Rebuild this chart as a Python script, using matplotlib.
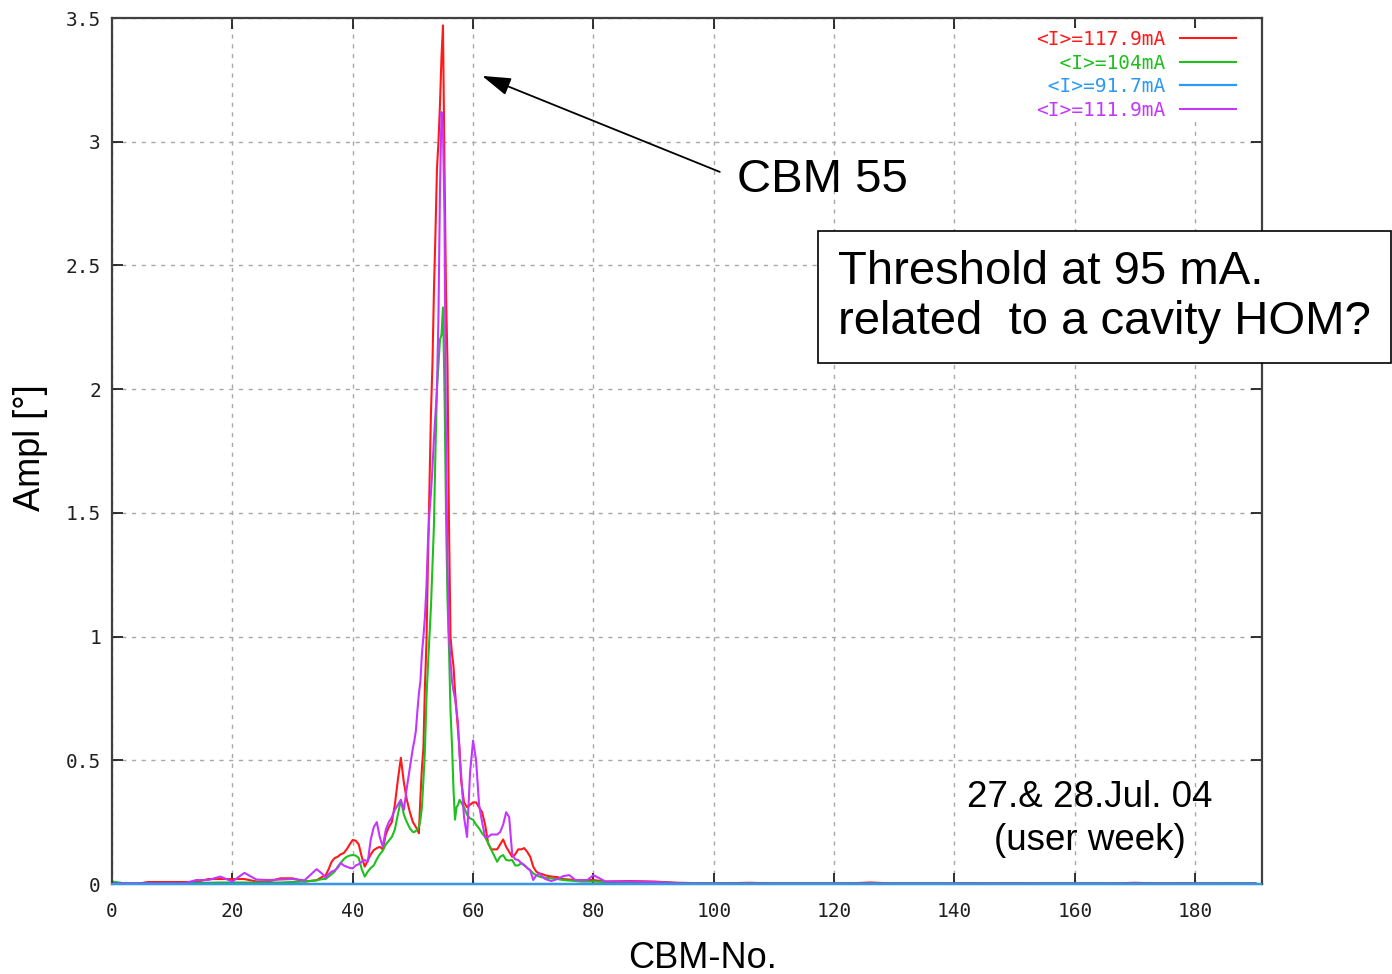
import numpy as np
import matplotlib
matplotlib.use('Agg')
import matplotlib.pyplot as plt

plt.rcParams['font.family'] = ['Liberation Sans', 'DejaVu Sans']

# CBM number sampling (finer around the peak)
cbm = np.concatenate([
    np.arange(0, 35, 2),
    np.arange(35, 50, 0.5),
    np.arange(50, 58, 0.25),
    np.arange(58, 72, 0.5),
    np.arange(72, 81, 1),
    np.arange(82, 191, 4),
])

# <I>=117.9mA
ampl_117 = [
    0.005, 0.0, 0.0, 0.008, 0.008, 0.008, 0.008, 0.008, 0.02, 0.02, 0.02, 0.02, 0.01, 0.01, 0.023, 0.023, 0.01, 0.015,
    0.03, 0.035, 0.06, 0.09, 0.105, 0.11, 0.12, 0.125, 0.14, 0.16, 0.178, 0.175, 0.16, 0.11, 0.07, 0.095,
    0.12, 0.137, 0.145, 0.15, 0.14, 0.2, 0.23, 0.25, 0.32, 0.42, 0.51, 0.41, 0.34, 0.29,
    0.25, 0.24, 0.23, 0.22, 0.205, 0.35, 0.47, 0.55, 0.8, 0.97, 1.3, 1.6, 1.9, 2.1, 2.4, 2.63,
    2.89, 3.0, 3.15, 3.34, 3.47, 2.9, 2.4, 2.1, 1.45, 1.0, 0.93, 0.88, 0.78, 0.7, 0.62, 0.55,
    0.42, 0.33, 0.31, 0.32, 0.33, 0.33, 0.31, 0.29, 0.24, 0.165, 0.14, 0.14, 0.14, 0.16,
    0.18, 0.15, 0.13, 0.11, 0.12, 0.14, 0.14, 0.145, 0.13, 0.11, 0.07, 0.05, 0.043, 0.04,
    0.035, 0.03, 0.028, 0.02, 0.018, 0.016, 0.016, 0.016, 0.016,
    0.01, 0.012, 0.01, 0.005, 0.003, 0.003, 0.005, 0.002, 0.002, 0.002, 0.002, 0.006, 0.002, 0.002,
    0.002, 0.004, 0.002, 0.004, 0.002, 0.002, 0.002, 0.002, 0.005, 0.002, 0.004, 0.002, 0.002, 0.002,
]

# <I>=104mA
ampl_104 = [
    0.01, 0.003, 0.003, 0.003, 0.003, 0.003, 0.003, 0.005, 0.005, 0.006, 0.006, 0.006, 0.006, 0.006, 0.006, 0.008, 0.01, 0.015,
    0.02, 0.02, 0.03, 0.04, 0.05, 0.07, 0.085, 0.1, 0.11, 0.115, 0.117, 0.115, 0.105, 0.06, 0.03, 0.05,
    0.065, 0.075, 0.1, 0.12, 0.135, 0.16, 0.175, 0.19, 0.22, 0.28, 0.34, 0.28, 0.25, 0.225,
    0.21, 0.21, 0.215, 0.22, 0.23, 0.26, 0.31, 0.42, 0.54, 0.75, 0.88, 1.0, 1.12, 1.28, 1.45, 1.75,
    2.0, 2.1, 2.2, 2.22, 2.33, 2.0, 1.5, 1.15, 0.95, 0.7, 0.56, 0.38, 0.26, 0.31, 0.32, 0.34,
    0.33, 0.31, 0.28, 0.265, 0.26, 0.24, 0.225, 0.205, 0.19, 0.165, 0.14, 0.115, 0.09, 0.11,
    0.117, 0.097, 0.095, 0.097, 0.075, 0.075, 0.084, 0.075, 0.065, 0.055, 0.043, 0.035, 0.03, 0.027,
    0.025, 0.023, 0.02, 0.016, 0.014, 0.012, 0.01, 0.01, 0.01,
    0.008, 0.008, 0.006, 0.004, 0.003, 0.003, 0.003, 0.003, 0.003, 0.003, 0.003, 0.003, 0.003, 0.003,
    0.003, 0.003, 0.003, 0.003, 0.003, 0.003, 0.003, 0.003, 0.003, 0.003, 0.003, 0.003, 0.004, 0.003,
]

# <I>=91.7mA (flat)
cbm_917 = [0, 191]
ampl_917 = [0.0, 0.0]

# <I>=111.9mA
ampl_1119 = [
    0.003, 0.003, 0.003, 0.003, 0.003, 0.003, 0.003, 0.016, 0.016, 0.03, 0.01, 0.045, 0.018, 0.016, 0.018, 0.02, 0.015, 0.06,
    0.04, 0.025, 0.04, 0.05, 0.055, 0.065, 0.085, 0.075, 0.07, 0.065, 0.063, 0.075, 0.08, 0.09, 0.097, 0.09,
    0.18, 0.23, 0.25, 0.19, 0.15, 0.22, 0.25, 0.27, 0.3, 0.32, 0.34, 0.3, 0.39, 0.47,
    0.55, 0.58, 0.62, 0.7, 0.77, 0.82, 0.93, 1.0, 1.08, 1.2, 1.38, 1.5, 1.58, 1.68, 1.8, 1.9,
    2.0, 2.3, 2.8, 3.12, 3.05, 2.7, 1.8, 1.3, 1.0, 0.9, 0.82, 0.78, 0.75, 0.7, 0.65, 0.52,
    0.45, 0.27, 0.19, 0.45, 0.58, 0.5, 0.32, 0.25, 0.19, 0.19, 0.2, 0.2, 0.2, 0.21,
    0.24, 0.29, 0.27, 0.12, 0.1, 0.097, 0.085, 0.077, 0.065, 0.055, 0.016, 0.035, 0.043, 0.03,
    0.02, 0.012, 0.02, 0.032, 0.036, 0.016, 0.016, 0.016, 0.036,
    0.01, 0.01, 0.008, 0.003, 0.002, 0.002, 0.002, 0.002, 0.002, 0.002, 0.002, 0.002, 0.002, 0.002,
    0.002, 0.002, 0.002, 0.002, 0.002, 0.002, 0.002, 0.002, 0.002, 0.002, 0.002, 0.002, 0.002, 0.002,
]

labels = ['<I>=117.9mA', '  <I>=104mA', ' <I>=91.7mA', '<I>=111.9mA']
colors = ['#ff1a1a', '#1ec01e', '#2a9af5', '#c436ff']

xticks = [0, 20, 40, 60, 80, 100, 120, 140, 160, 180]
yticks = [0, 0.5, 1, 1.5, 2, 2.5, 3, 3.5]
ytick_labels = ['0', '0.5', '1', '1.5', '2', '2.5', '3', '3.5']

fig = plt.figure(figsize=(13.92, 9.74), dpi=100)
ax = fig.add_axes([112 / 1392, 1 - 884 / 974, 1150 / 1392, 866 / 974])

ax.plot(cbm, ampl_117, color=colors[0], lw=1.5, label=labels[0])
ax.plot(cbm, ampl_104, color=colors[1], lw=1.5, label=labels[1])
ax.plot(cbm_917, ampl_917, color=colors[2], lw=1.6, label=labels[2], clip_on=False, zorder=3)
ax.plot(cbm, ampl_1119, color=colors[3], lw=1.5, label=labels[3])

ax.set_xlim(0, 191.1)
ax.set_ylim(0, 3.5)
ax.set_xticks(xticks)
ax.set_yticks(yticks)
ax.set_yticklabels(ytick_labels)
ax.grid(True, color='#a8a8a8', linestyle=(0, (3, 4)), linewidth=1)
ax.tick_params(direction='in', length=8, width=1.3, top=True, right=True,
               labelsize=14, colors='#202020')
ax.tick_params(axis='x', pad=13)
ax.tick_params(axis='y', pad=8)
for lab in ax.get_xticklabels() + ax.get_yticklabels():
    lab.set_family('DejaVu Sans Mono')
for sp in ax.spines.values():
    sp.set_linewidth(1.6)
    sp.set_color('#404040')

leg = ax.legend(loc='upper right', bbox_to_anchor=(1238 / 1392, 1 - 28 / 974),
                bbox_transform=fig.transFigure, prop={'family': 'DejaVu Sans Mono', 'size': 14},
                markerfirst=False, frameon=True, facecolor='white', edgecolor='none',
                framealpha=1, fancybox=False, borderpad=0.1, borderaxespad=0,
                handlelength=2.9, handletextpad=0.75, labelspacing=0.24, labelcolor='linecolor')

ax.annotate('', xy=(61.5, 3.266), xytext=(101, 2.878),
            arrowprops=dict(arrowstyle='-|>,head_length=0.8,head_width=0.25', color='black',
                            lw=1.3, mutation_scale=22, shrinkA=0, shrinkB=0))
ax.text(103.9, 2.846, 'CBM 55', fontsize=34, va='center', ha='left')
ax.text(162.5, 0.262, '27.& 28.Jul. 04\n(user week)', fontsize=26.5, ha='center', va='center',
        multialignment='center', linespacing=1.32)

fig.text(838 / 1392, 1 - 297 / 974, 'Threshold at 95 mA.\nrelated  to a cavity HOM?',
         fontsize=34, ha='left', va='center', linespacing=1.15,
         bbox=dict(boxstyle='square,pad=0.42', fc='white', ec='black', lw=1.2))

fig.text(30 / 1392, 1 - 448 / 974, 'Ampl [°]', rotation=90, ha='center', va='center', fontsize=26)
fig.text(703 / 1392, 1 - 958 / 974, 'CBM-No.', ha='center', va='center', fontsize=26)

fig.savefig('out.png', dpi=100)
